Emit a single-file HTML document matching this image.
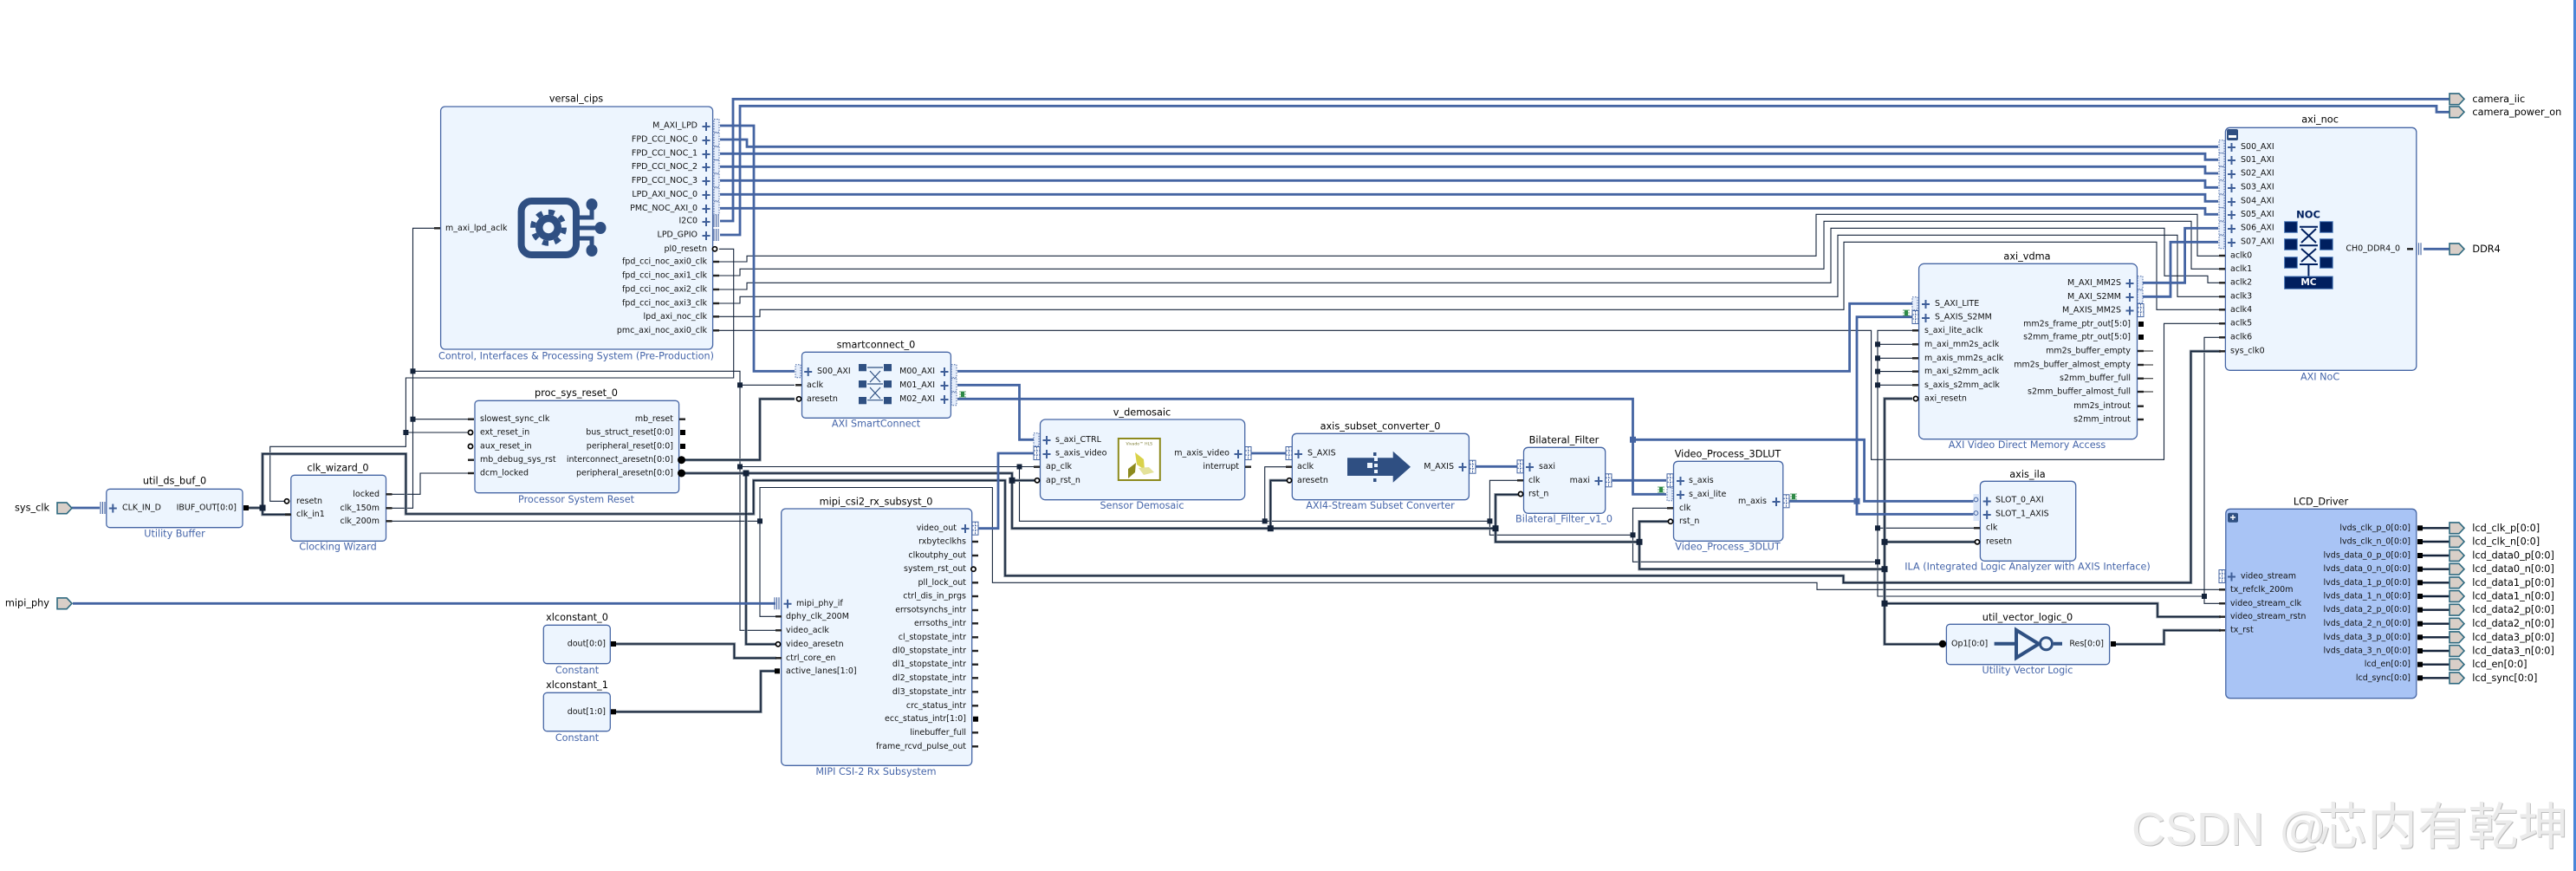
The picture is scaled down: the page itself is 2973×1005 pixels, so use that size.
<!DOCTYPE html>
<html><head><meta charset="utf-8"><title>Block Design</title>
<style>
html,body{margin:0;padding:0;background:#fff;width:2973px;height:1005px;overflow:hidden}
svg{display:block}
text{font-family:"DejaVu Sans","Liberation Sans",sans-serif;dominant-baseline:central}
.p{font-size:9.5px;fill:#111}
.e{font-size:9.5px;fill:#111;text-anchor:end}
.t{font-size:11.3px;fill:#000;text-anchor:middle}
.l{font-size:11.2px;fill:#4666aa;text-anchor:middle}
.x{font-size:11.3px;fill:#000}
.box{fill:#edf5fe;stroke:#4666a5;stroke-width:1.3}
.bw{fill:none;stroke:#4464a2;stroke-width:2.8}
.th{fill:none;stroke:#14233a;stroke-width:1.1}
.ic{fill:#2f4f82}
.nv{fill:#001f5f;stroke:#4a78b8;stroke-width:1}
.wm{font-family:"Liberation Sans","Noto Sans CJK SC",sans-serif;fill:#ebebeb;filter:drop-shadow(1px 1px 0 #bdbdbd);dominant-baseline:auto}
</style></head><body>
<svg xmlns="http://www.w3.org/2000/svg" width="2973" height="1005" viewBox="0 0 2973 1005">
<defs>
<path id="pl" d="M-4.5 0H4.5M0-5V5" stroke="#3f5f99" stroke-width="2" fill="none"/>
<rect id="pd" x="0" y="-7.5" width="6" height="15" fill="#e6eefb" stroke="#4464a2" stroke-width="1" stroke-dasharray="1.5 1.5"/>
<g id="pm"><rect x="0" y="-7.5" width="7" height="15" fill="#fff" stroke="#4464a2" stroke-width="1"/><path d="M0-3H7M0 2H7M3.5-7.5V7.5" stroke="#4464a2" stroke-width="1" stroke-dasharray="2 1" fill="none"/></g>
<path id="pa" d="M1-7V7M3.5-7V7M6-7V7" stroke="#4464a2" stroke-width="1.1" fill="none"/>
<rect id="s" x="0" y="-1.2" width="7" height="2.4" fill="#222"/>
<rect id="v" x="1" y="-3" width="6" height="6" fill="#000"/>
<circle id="r" cx="0" cy="0" r="2.6" fill="#fff" stroke="#000" stroke-width="1.7"/>
<rect id="j" x="-3" y="-3" width="6" height="6" fill="#14233a"/>
<rect id="J" x="-3.5" y="-3.5" width="7" height="7" fill="#14233a"/>
<rect id="B" x="-3.5" y="-3.5" width="7" height="7" fill="#4464a2"/>
<path id="ext" d="M0-6.4H11L17 0 11 6.4H0Z" fill="#d9cfc8" stroke="#2f6a80" stroke-width="1.6"/>
<g id="bug" fill="#2e8b46"><rect x="-2" y="-3" width="4" height="6"/><path d="M-4-3H4M-4 0H4M-4 3H4" stroke="#2e8b46" stroke-width="0.8"/></g>
<path id="tk" d="M287 586H303V593.7H336M303 586V523.7H468.4V593H869.7V554.3H1160V664.3H2127.5V672.3H2528.5V405.3H2563M790 530.7H877V460.3H917M790 546H1168V609.7H1726V570.7H1753M861 546V743.3H896M1168 554.3H1195M1466.3 609.7V554.3H1485M1726 609.7V625.3H1892V601.7H1925M1892 625.3V656.7H2175M2207 460H2175V743.3H2242M2175 625.3H2279M2175 696.3H2490V711.7H2563M2438 743.3H2497.5V727.3H2563M710 743H847.4V759.3H896M710 821.3H878V774.3H896"/>
</defs>
<rect x="2970" y="0" width="3" height="1005" fill="#4a86d8"/>
<text class="wm" y="975"><tspan x="2460" font-size="54">CSDN</tspan><tspan x="2630" font-size="54">@</tspan><tspan x="2674" y="974" font-size="58">芯内有乾坤</tspan></text>

<!-- thin clock wires -->
<g class="th">
<path class="th" d="M823 302H862V295.3H2096V247.3H2536V295.3H2563"/>
<path class="th" d="M823 318H854V310.3H2105V255.3H2529V310.3H2563"/>
<path class="th" d="M823 334H862V326.3H2113V263.3H2498V318.3H2548V326.3H2563"/>
<path class="th" d="M823 350H854V342.3H2121V271.3H2513V342.3H2563"/>
<path class="th" d="M823 365.3H877V357.3H2128V279.3H2489V357.3H2563"/>
<path class="th" d="M823 381.3H2159.6V530.3H2497.5V373.3H2563"/>
<path class="th" d="M445.5 586.3H476.5V263.3H508"/>
<path class="th" d="M476.5 428.3H854V727.3H896"/>
<path class="th" d="M854 444.3H917"/>
<path class="th" d="M476.5 483.7H541"/>
<path class="th" d="M854 538.5H1193"/>
<path class="th" d="M1176.5 538.5V601.3H1719.4V554.3H1752"/>
<path class="th" d="M1459.7 601.3V538.7H1484"/>
<path class="th" d="M1719.4 601.3V617.3H1884.5"/>
<path class="th" d="M1925 586.3H1884.5V648.3H2167"/>
<path class="th" d="M2207 381.3H2167V688H2544"/>
<path class="th" d="M2563 389.3H2544V696.3H2563"/>
<path class="th" d="M2167 397.3H2207M2167 413.3H2207M2167 428.6H2207M2167 444.3H2207M2167 609.3H2278"/>
<path class="th" d="M445.5 601.3H877V711.3H896"/>
<path class="th" d="M877 601.3V562.5H1145.4V672.3H2097V680.3H2563"/>
<path class="th" d="M445.5 570.3H485V546H541"/>
<path class="th" d="M830 287.3H846.7V436H468.4V515.3H311.7V578.3H330"/>
<path class="th" d="M468.4 499H541"/>
</g>
<!-- thick wires -->
<g fill="none" stroke="#8a949e" stroke-width="3.4"><use href="#tk"/></g>
<g fill="none" stroke="#14233a" stroke-width="1.6"><use href="#tk"/></g>
<g fill="none" stroke="#14233a" stroke-width="2.4">
<path d="M2796 609.3H2827M2796 625H2827M2796 641H2827M2796 656.7H2827M2796 672.3H2827M2796 688H2827M2796 703.7H2827M2796 719.7H2827M2796 735.3H2827M2796 751H2827M2796 766.7H2827M2796 782.3H2827"/>
</g>
<!-- blue wires -->
<g>
<path class="bw" d="M831 255H846V114.3H2827"/>
<path class="bw" d="M831 271H854V122.3H2812V129.3H2827"/>
<path class="bw" d="M831 145H870V428.3H917"/>
<path class="bw" d="M831 161H862V169.3H2560"/>
<path class="bw" d="M831 177.3H2545V184.3H2560"/>
<path class="bw" d="M831 192.3H2545V200H2560"/>
<path class="bw" d="M831 208.3H2545V216.3H2560"/>
<path class="bw" d="M831 224.3H2545V232.3H2560"/>
<path class="bw" d="M831 240.3H2545V247.3H2560"/>
<path class="bw" d="M2473 326.3H2521.6V263.3H2560"/>
<path class="bw" d="M2473 342.3H2505V279.3H2560"/>
<path class="bw" d="M1105 428.3H2134.6V350.3H2207"/>
<path class="bw" d="M1105 444.3H1176.5V507.3H1193"/>
<path class="bw" d="M1105 460.3H1884.5V570.3H1923"/>
<path class="bw" d="M1884.5 507.3H2151.6V578.3H2278"/>
<path class="bw" d="M1129 609.7H1152V523H1193"/>
<path class="bw" d="M1444 523H1484"/>
<path class="bw" d="M1703 538.3H1751"/>
<path class="bw" d="M1860.7 554.3H1923"/>
<path class="bw" d="M2065.5 578.3H2143"/>
<path class="bw" d="M2207 365.7H2143V593.3H2278"/>
<path class="bw" d="M84 696.3H895"/>
<path class="bw" d="M83 586H115"/>
<path class="bw" d="M2797 287.3H2827"/>
</g>
<!-- junctions -->
<use href="#j" x="476.5" y="428.3"/><use href="#j" x="476.5" y="483.7"/><use href="#j" x="468.4" y="499"/><use href="#j" x="854" y="444.3"/><use href="#j" x="854" y="538.5"/><use href="#J" x="861" y="546"/><use href="#J" x="303" y="586"/><use href="#j" x="877" y="601.3"/><use href="#j" x="1176.5" y="538.5"/><use href="#J" x="1168" y="554.3"/><use href="#j" x="1459.7" y="601.3"/><use href="#J" x="1466.3" y="609.7"/><use href="#j" x="1719.4" y="601.3"/><use href="#J" x="1726" y="609.7"/><use href="#j" x="1884.5" y="617.3"/><use href="#J" x="1892" y="625.3"/><use href="#j" x="2167" y="397.3"/><use href="#j" x="2167" y="413.3"/><use href="#j" x="2167" y="428.6"/><use href="#j" x="2167" y="444.3"/><use href="#j" x="2167" y="609.3"/><use href="#j" x="2167" y="648.3"/><use href="#J" x="2175" y="625.3"/><use href="#J" x="2175" y="656.7"/><use href="#J" x="2175" y="696.3"/><use href="#j" x="2544" y="688"/>
<use href="#B" x="1884.5" y="507.3"/><use href="#B" x="2143" y="578.3"/>

<!-- external ports -->
<use href="#ext" x="66" y="586.3"/><text class="x" x="57" y="586" text-anchor="end">sys_clk</text>
<use href="#ext" x="66" y="696.3"/><text class="x" x="57" y="696" text-anchor="end">mipi_phy</text>
<use href="#ext" x="2827" y="114.3"/><text class="x" x="2853.4" y="114.3">camera_iic</text>
<use href="#ext" x="2827" y="129.3"/><text class="x" x="2853.4" y="129.3">camera_power_on</text>
<use href="#ext" x="2827" y="287.3"/><text class="x" x="2853.4" y="287.3">DDR4</text>
<use href="#ext" x="2827" y="609.3"/><text class="x" x="2853.3" y="609.3">lcd_clk_p[0:0]</text>
<use href="#ext" x="2827" y="625"/><text class="x" x="2853.3" y="625">lcd_clk_n[0:0]</text>
<use href="#ext" x="2827" y="641"/><text class="x" x="2853.3" y="641">lcd_data0_p[0:0]</text>
<use href="#ext" x="2827" y="656.7"/><text class="x" x="2853.3" y="656.7">lcd_data0_n[0:0]</text>
<use href="#ext" x="2827" y="672.3"/><text class="x" x="2853.3" y="672.3">lcd_data1_p[0:0]</text>
<use href="#ext" x="2827" y="688"/><text class="x" x="2853.3" y="688">lcd_data1_n[0:0]</text>
<use href="#ext" x="2827" y="703.7"/><text class="x" x="2853.3" y="703.7">lcd_data2_p[0:0]</text>
<use href="#ext" x="2827" y="719.7"/><text class="x" x="2853.3" y="719.7">lcd_data2_n[0:0]</text>
<use href="#ext" x="2827" y="735.3"/><text class="x" x="2853.3" y="735.3">lcd_data3_p[0:0]</text>
<use href="#ext" x="2827" y="751"/><text class="x" x="2853.3" y="751">lcd_data3_n[0:0]</text>
<use href="#ext" x="2827" y="766.7"/><text class="x" x="2853.3" y="766.7">lcd_en[0:0]</text>
<use href="#ext" x="2827" y="782.3"/><text class="x" x="2853.3" y="782.3">lcd_sync[0:0]</text>

<!-- versal_cips -->
<rect class="box" x="508.6" y="123" width="314" height="280" rx="5"/>
<text class="t" x="665" y="114">versal_cips</text>
<text class="l" x="665" y="411">Control, Interfaces &amp; Processing System (Pre-Production)</text>
<use href="#s" x="501" y="263.3"/><text class="p" x="514" y="263.3">m_axi_lpd_aclk</text>
<rect x="601.6" y="232" width="63.4" height="62" rx="12" fill="none" stroke="#2f4f82" stroke-width="8"/>
<circle cx="633" cy="262.7" r="15" class="ic"/><circle cx="633" cy="262.7" r="18" fill="none" stroke="#2f4f82" stroke-width="6" stroke-dasharray="7 7.1"/><circle cx="633" cy="262.7" r="6.5" fill="#edf5fe"/>
<path d="M669 251H683V236M669 263H692M669 275H683V290" fill="none" stroke="#2f4f82" stroke-width="5"/>
<ellipse cx="683" cy="236" rx="6.5" ry="7" class="ic"/><ellipse cx="693" cy="263" rx="6.5" ry="7" class="ic"/><ellipse cx="683" cy="289" rx="6.5" ry="7" class="ic"/>
<g>
<text class="e" x="805" y="145">M_AXI_LPD</text><use href="#pl" x="815" y="146"/><use href="#pd" x="824" y="145"/>
<text class="e" x="805" y="161">FPD_CCI_NOC_0</text><use href="#pl" x="815" y="162"/><use href="#pd" x="824" y="161"/>
<text class="e" x="805" y="177">FPD_CCI_NOC_1</text><use href="#pl" x="815" y="178"/><use href="#pd" x="824" y="177"/>
<text class="e" x="805" y="192.3">FPD_CCI_NOC_2</text><use href="#pl" x="815" y="193"/><use href="#pd" x="824" y="192.3"/>
<text class="e" x="805" y="208.3">FPD_CCI_NOC_3</text><use href="#pl" x="815" y="209"/><use href="#pd" x="824" y="208.3"/>
<text class="e" x="805" y="224.3">LPD_AXI_NOC_0</text><use href="#pl" x="815" y="225"/><use href="#pd" x="824" y="224.3"/>
<text class="e" x="805" y="240.3">PMC_NOC_AXI_0</text><use href="#pl" x="815" y="241"/><use href="#pd" x="824" y="240.3"/>
<text class="e" x="805" y="255">I2C0</text><use href="#pl" x="815" y="256"/><use href="#pa" x="823" y="255"/>
<text class="e" x="805" y="271">LPD_GPIO</text><use href="#pl" x="815" y="272"/><use href="#pa" x="823" y="271"/>
<text class="e" x="816" y="287.3">pl0_resetn</text><use href="#r" x="825" y="287.3"/>
<text class="e" x="816" y="302">fpd_cci_noc_axi0_clk</text><use href="#s" x="823" y="302"/>
<text class="e" x="816" y="318">fpd_cci_noc_axi1_clk</text><use href="#s" x="823" y="318"/>
<text class="e" x="816" y="334">fpd_cci_noc_axi2_clk</text><use href="#s" x="823" y="334"/>
<text class="e" x="816" y="350">fpd_cci_noc_axi3_clk</text><use href="#s" x="823" y="350"/>
<text class="e" x="816" y="365.3">lpd_axi_noc_clk</text><use href="#s" x="823" y="365.3"/>
<text class="e" x="816" y="381.3">pmc_axi_noc_axi0_clk</text><use href="#s" x="823" y="381.3"/>
</g>

<!-- util_ds_buf -->
<rect class="box" x="122.8" y="564.3" width="157.2" height="44.4" rx="4"/>
<text class="t" x="201.5" y="555">util_ds_buf_0</text><text class="l" x="201.5" y="616">Utility Buffer</text>
<use href="#pa" x="115" y="586"/><use href="#pl" x="130.3" y="586.5"/><text class="p" x="141" y="586">CLK_IN_D</text>
<text class="e" x="273" y="586">IBUF_OUT[0:0]</text><use href="#v" x="280" y="586"/>

<!-- clk_wizard -->
<rect class="box" x="335.8" y="548.3" width="109.7" height="76" rx="4"/>
<text class="t" x="390" y="540">clk_wizard_0</text><text class="l" x="390" y="631">Clocking Wizard</text>
<use href="#r" x="331" y="578.3"/><text class="p" x="342" y="578.3">resetn</text>
<use href="#s" x="329" y="593.7"/><text class="p" x="342" y="593.7">clk_in1</text>
<text class="e" x="438" y="570.3">locked</text><use href="#s" x="445.5" y="570.3"/>
<text class="e" x="438" y="586.3">clk_150m</text><use href="#s" x="445.5" y="586.3"/>
<text class="e" x="438" y="601.3">clk_200m</text><use href="#s" x="445.5" y="601.3"/>

<!-- proc_sys_reset -->
<rect class="box" x="548" y="462.3" width="235.6" height="106.4" rx="4"/>
<text class="t" x="665" y="453.3">proc_sys_reset_0</text><text class="l" x="665" y="576.3">Processor System Reset</text>
<use href="#s" x="540" y="483.7"/><text class="p" x="554" y="483.7">slowest_sync_clk</text>
<use href="#r" x="543" y="499"/><text class="p" x="554" y="499">ext_reset_in</text>
<use href="#r" x="543" y="515"/><text class="p" x="554" y="515">aux_reset_in</text>
<use href="#s" x="540" y="530.7"/><text class="p" x="554" y="530.7">mb_debug_sys_rst</text>
<use href="#s" x="540" y="546"/><text class="p" x="554" y="546">dcm_locked</text>
<text class="e" x="777" y="483.7">mb_reset</text><use href="#s" x="784" y="483.7"/>
<text class="e" x="777" y="499">bus_struct_reset[0:0]</text><use href="#v" x="784" y="499"/>
<text class="e" x="777" y="515">peripheral_reset[0:0]</text><use href="#v" x="784" y="515"/>
<text class="e" x="777" y="530.7">interconnect_aresetn[0:0]</text><circle cx="786.5" cy="530.7" r="4.5" fill="#000"/>
<text class="e" x="777" y="546">peripheral_aresetn[0:0]</text><circle cx="786.5" cy="546" r="4.5" fill="#000"/>

<!-- smartconnect -->
<rect class="box" x="925.5" y="406.3" width="171.9" height="76" rx="4"/>
<text class="t" x="1011" y="398">smartconnect_0</text><text class="l" x="1011" y="489">AXI SmartConnect</text>
<use href="#pd" x="918" y="428.3"/><use href="#pl" x="932.7" y="429"/><text class="p" x="943" y="428.3">S00_AXI</text>
<use href="#s" x="918" y="444.3"/><text class="p" x="931" y="444.3">aclk</text>
<use href="#r" x="922" y="460.3"/><text class="p" x="931" y="460.3">aresetn</text>
<text class="e" x="1079" y="428.3">M00_AXI</text><use href="#pl" x="1090" y="429"/><use href="#pd" x="1098" y="428.3"/>
<text class="e" x="1079" y="444.3">M01_AXI</text><use href="#pl" x="1090" y="445"/><use href="#pd" x="1098" y="444.3"/>
<text class="e" x="1079" y="460.3">M02_AXI</text><use href="#pl" x="1090" y="461"/><use href="#pd" x="1098" y="460.3"/>
<use href="#bug" x="1111" y="455"/>
<g fill="#2f5082"><rect x="991" y="420" width="9" height="8.3"/><rect x="1020" y="420" width="9" height="8.3"/><rect x="991" y="439" width="9" height="8.3"/><rect x="1020" y="439" width="9" height="8.3"/><rect x="991" y="458" width="9" height="8.3"/><rect x="1020" y="458" width="9" height="8.3"/></g>
<path d="M1001 424H1019M1001 443H1019M1001 461.7H1019M1004 428L1016 441M1016 428L1004 441M1004 447L1016 460M1016 447L1004 460" stroke="#2f5082" stroke-width="1.2" fill="none"/>

<!-- v_demosaic -->
<rect class="box" x="1200.5" y="484" width="236.2" height="92.7" rx="6"/>
<text class="t" x="1318" y="476">v_demosaic</text><text class="l" x="1318" y="583.3">Sensor Demosaic</text>
<use href="#pd" x="1193" y="507.3"/><use href="#pl" x="1208" y="508"/><text class="p" x="1218" y="507.3">s_axi_CTRL</text>
<use href="#pm" x="1193" y="523"/><use href="#pl" x="1208" y="524"/><text class="p" x="1218" y="523">s_axis_video</text>
<use href="#s" x="1193" y="538.7"/><text class="p" x="1207" y="538.7">ap_clk</text>
<use href="#r" x="1197" y="554.3"/><text class="p" x="1207" y="554.3">ap_rst_n</text>
<text class="e" x="1419" y="523">m_axis_video</text><use href="#pl" x="1429" y="524"/><use href="#pm" x="1437" y="523"/>
<text class="e" x="1430" y="538.7">interrupt</text><use href="#s" x="1437" y="538.7"/>
<rect x="1290.8" y="506" width="48" height="48" fill="#fff" stroke="#8d8a1e" stroke-width="2"/>
<text x="1314.8" y="513" font-size="4.6" text-anchor="middle" fill="#7a7a30">Vivado™ HLS</text>
<path d="M1310 522L1320 530 1321 542 1312 536Z" fill="#d9d24a"/><path d="M1311 539L1302 546 1302 557 1310 550Z" fill="#8d8a1e" transform="translate(0,-5)"/><path d="M1314 540L1326 539 1332 545 1320 548Z" fill="#e4e29a"/>

<!-- axis_subset_converter -->
<rect class="box" x="1491.3" y="500.3" width="204.1" height="76.4" rx="5"/>
<text class="t" x="1593" y="492">axis_subset_converter_0</text><text class="l" x="1593" y="583.3">AXI4-Stream Subset Converter</text>
<use href="#pm" x="1484" y="523"/><use href="#pl" x="1498.5" y="524"/><text class="p" x="1509" y="523">S_AXIS</text>
<use href="#s" x="1484" y="538.7"/><text class="p" x="1497" y="538.7">aclk</text>
<use href="#r" x="1488" y="554.3"/><text class="p" x="1497" y="554.3">aresetn</text>
<text class="e" x="1678" y="538.7">M_AXIS</text><use href="#pl" x="1688" y="539"/><use href="#pm" x="1696" y="538.7"/>
<path d="M1555 528.3H1607.7V520.7L1628 538.7 1607.7 556.7V549H1555Z" class="ic"/>
<path d="M1588 521V557" stroke="#edf5fe" stroke-width="4" stroke-dasharray="4 3"/><rect x="1578" y="534" width="6" height="6" fill="#edf5fe"/><rect x="1585" y="522" width="3.5" height="4" class="ic"/><rect x="1585" y="552" width="3.5" height="4" class="ic"/>

<!-- Bilateral_Filter -->
<rect class="box" x="1758.5" y="516.3" width="94.2" height="76" rx="5"/>
<text class="t" x="1805" y="508">Bilateral_Filter</text><text class="l" x="1805" y="599">Bilateral_Filter_v1_0</text>
<use href="#pm" x="1751" y="538.3"/><use href="#pl" x="1765.5" y="539"/><text class="p" x="1776" y="538.3">saxi</text>
<use href="#s" x="1751" y="554.3"/><text class="p" x="1764" y="554.3">clk</text>
<use href="#r" x="1755" y="570"/><text class="p" x="1764" y="570">rst_n</text>
<text class="e" x="1835" y="554.3">maxi</text><use href="#pl" x="1845" y="555"/><use href="#pm" x="1853" y="554.3"/>

<!-- Video_Process_3DLUT -->
<rect class="box" x="1931.5" y="532.3" width="126.3" height="92" rx="5"/>
<text class="t" x="1994" y="524">Video_Process_3DLUT</text><text class="l" x="1994" y="631">Video_Process_3DLUT</text>
<use href="#pm" x="1924" y="554.3"/><use href="#pl" x="1939.5" y="555"/><text class="p" x="1949" y="554.3">s_axis</text>
<use href="#pd" x="1924" y="570.3"/><use href="#pl" x="1939.5" y="571"/><text class="p" x="1949" y="570.3">s_axi_lite</text>
<use href="#s" x="1924" y="586.3"/><text class="p" x="1938" y="586.3">clk</text>
<use href="#r" x="1928" y="601.7"/><text class="p" x="1938" y="601.7">rst_n</text>
<text class="e" x="2039" y="578.3">m_axis</text><use href="#pl" x="2050" y="579"/><use href="#pm" x="2058" y="578.3"/>
<use href="#bug" x="1917" y="565"/><use href="#bug" x="2070" y="573"/>

<!-- mipi -->
<rect class="box" x="901.7" y="587" width="220" height="296.3" rx="5"/>
<text class="t" x="1011" y="579">mipi_csi2_rx_subsyst_0</text><text class="l" x="1011" y="890.3">MIPI CSI-2 Rx Subsystem</text>
<use href="#pa" x="893" y="696.3"/><use href="#pl" x="909" y="696.8"/><text class="p" x="919" y="696.3">mipi_phy_if</text>
<use href="#s" x="895" y="711.3"/><text class="p" x="907" y="711.3">dphy_clk_200M</text>
<use href="#s" x="895" y="727.3"/><text class="p" x="907" y="727.3">video_aclk</text>
<use href="#r" x="898" y="743.3"/><text class="p" x="907" y="743.3">video_aresetn</text>
<use href="#s" x="895" y="759.3"/><text class="p" x="907" y="759.3">ctrl_core_en</text>
<use href="#v" x="893" y="774.3"/><text class="p" x="907" y="774.3">active_lanes[1:0]</text>
<text class="e" x="1104" y="609.7">video_out</text><use href="#pl" x="1114" y="610"/><use href="#pm" x="1122" y="609.7"/>
<text class="e" x="1115" y="625">rxbyteclkhs</text><use href="#s" x="1122" y="625"/>
<text class="e" x="1115" y="641">clkoutphy_out</text><use href="#s" x="1122" y="641"/>
<text class="e" x="1115" y="656.7">system_rst_out</text><use href="#r" x="1123.5" y="656.7"/>
<text class="e" x="1115" y="672.3">pll_lock_out</text><use href="#s" x="1122" y="672.3"/>
<text class="e" x="1115" y="688">ctrl_dis_in_prgs</text><use href="#s" x="1122" y="688"/>
<text class="e" x="1115" y="704">errsotsynchs_intr</text><use href="#s" x="1122" y="704"/>
<text class="e" x="1115" y="719.3">errsoths_intr</text><use href="#s" x="1122" y="719.3"/>
<text class="e" x="1115" y="735.3">cl_stopstate_intr</text><use href="#s" x="1122" y="735.3"/>
<text class="e" x="1115" y="751">dl0_stopstate_intr</text><use href="#s" x="1122" y="751"/>
<text class="e" x="1115" y="766.7">dl1_stopstate_intr</text><use href="#s" x="1122" y="766.7"/>
<text class="e" x="1115" y="782.3">dl2_stopstate_intr</text><use href="#s" x="1122" y="782.3"/>
<text class="e" x="1115" y="798.3">dl3_stopstate_intr</text><use href="#s" x="1122" y="798.3"/>
<text class="e" x="1115" y="814.3">crc_status_intr</text><use href="#s" x="1122" y="814.3"/>
<text class="e" x="1115" y="829.7">ecc_status_intr[1:0]</text><use href="#v" x="1122" y="829.7"/>
<text class="e" x="1115" y="845.3">linebuffer_full</text><use href="#s" x="1122" y="845.3"/>
<text class="e" x="1115" y="861.3">frame_rcvd_pulse_out</text><use href="#s" x="1122" y="861.3"/>

<!-- constants -->
<rect class="box" x="627.3" y="721.3" width="77" height="44.4" rx="4"/>
<text class="t" x="666" y="712.3">xlconstant_0</text><text class="l" x="666" y="773.3">Constant</text>
<text class="e" x="699" y="743">dout[0:0]</text><use href="#v" x="704" y="743"/>
<rect class="box" x="627.3" y="799.3" width="77" height="44.4" rx="4"/>
<text class="t" x="666" y="790.3">xlconstant_1</text><text class="l" x="666" y="851.3">Constant</text>
<text class="e" x="699" y="821.3">dout[1:0]</text><use href="#v" x="704" y="821.3"/>

<!-- axi_vdma -->
<rect class="box" x="2214.6" y="304.3" width="251.9" height="202.4" rx="6"/>
<text class="t" x="2339.5" y="296">axi_vdma</text><text class="l" x="2339.5" y="513.3">AXI Video Direct Memory Access</text>
<use href="#pd" x="2207" y="350.3"/><use href="#pl" x="2222.5" y="351"/><text class="p" x="2233" y="350.3">S_AXI_LITE</text>
<use href="#pm" x="2207" y="366"/><use href="#pl" x="2222.5" y="367"/><text class="p" x="2233" y="366">S_AXIS_S2MM</text>
<use href="#bug" x="2200" y="361"/>
<use href="#s" x="2207" y="381.3"/><text class="p" x="2221" y="381.3">s_axi_lite_aclk</text>
<use href="#s" x="2207" y="397.3"/><text class="p" x="2221" y="397.3">m_axi_mm2s_aclk</text>
<use href="#s" x="2207" y="413.3"/><text class="p" x="2221" y="413.3">m_axis_mm2s_aclk</text>
<use href="#s" x="2207" y="428.6"/><text class="p" x="2221" y="428.6">m_axi_s2mm_aclk</text>
<use href="#s" x="2207" y="444.3"/><text class="p" x="2221" y="444.3">s_axis_s2mm_aclk</text>
<use href="#r" x="2211" y="460"/><text class="p" x="2221" y="460">axi_resetn</text>
<text class="e" x="2448" y="326.3">M_AXI_MM2S</text><use href="#pl" x="2458" y="327"/><use href="#pd" x="2467" y="326.3"/>
<text class="e" x="2448" y="342.3">M_AXI_S2MM</text><use href="#pl" x="2458" y="343"/><use href="#pd" x="2467" y="342.3"/>
<text class="e" x="2448" y="358">M_AXIS_MM2S</text><use href="#pl" x="2458" y="358.5"/><use href="#pm" x="2467" y="358"/>
<text class="e" x="2459" y="374">mm2s_frame_ptr_out[5:0]</text><use href="#v" x="2467" y="374"/>
<text class="e" x="2459" y="389">s2mm_frame_ptr_out[5:0]</text><use href="#v" x="2467" y="389"/>
<text class="e" x="2459" y="405">mm2s_buffer_empty</text><path d="M2467 405H2485M2467 421H2485M2467 436.7H2485M2467 452H2485" stroke="#222" stroke-width="1"/><use href="#s" x="2467" y="405"/>
<text class="e" x="2459" y="421">mm2s_buffer_almost_empty</text><use href="#s" x="2467" y="421"/>
<text class="e" x="2459" y="436.7">s2mm_buffer_full</text><use href="#s" x="2467" y="436.7"/>
<text class="e" x="2459" y="452">s2mm_buffer_almost_full</text><use href="#s" x="2467" y="452"/>
<text class="e" x="2459" y="468.7">mm2s_introut</text><use href="#s" x="2467" y="468.7"/>
<text class="e" x="2459" y="484">s2mm_introut</text><use href="#s" x="2467" y="484"/>

<!-- axi_noc -->
<rect class="box" x="2568.4" y="147.3" width="220.4" height="280" rx="5"/>
<text class="t" x="2677.6" y="138">axi_noc</text><text class="l" x="2677.6" y="435">AXI NoC</text>
<rect x="2570" y="149" width="13" height="13" rx="2" fill="#2f4f82"/><rect x="2572" y="156" width="9" height="3" fill="#fff"/>
<use href="#pd" x="2561" y="169.3"/><use href="#pl" x="2575.5" y="170"/><text class="p" x="2586" y="169.3">S00_AXI</text>
<use href="#pd" x="2561" y="184.3"/><use href="#pl" x="2575.5" y="185"/><text class="p" x="2586" y="184.3">S01_AXI</text>
<use href="#pd" x="2561" y="200"/><use href="#pl" x="2575.5" y="201"/><text class="p" x="2586" y="200">S02_AXI</text>
<use href="#pd" x="2561" y="216.3"/><use href="#pl" x="2575.5" y="217"/><text class="p" x="2586" y="216">S03_AXI</text>
<use href="#pd" x="2561" y="232.3"/><use href="#pl" x="2575.5" y="233"/><text class="p" x="2586" y="232">S04_AXI</text>
<use href="#pd" x="2561" y="247.3"/><use href="#pl" x="2575.5" y="248"/><text class="p" x="2586" y="247.3">S05_AXI</text>
<use href="#pd" x="2561" y="263.3"/><use href="#pl" x="2575.5" y="264"/><text class="p" x="2586" y="263">S06_AXI</text>
<use href="#pd" x="2561" y="279.3"/><use href="#pl" x="2575.5" y="280"/><text class="p" x="2586" y="279">S07_AXI</text>
<use href="#s" x="2561" y="295"/><text class="p" x="2574" y="295">aclk0</text>
<use href="#s" x="2561" y="310.3"/><text class="p" x="2574" y="310.3">aclk1</text>
<use href="#s" x="2561" y="326.3"/><text class="p" x="2574" y="326">aclk2</text>
<use href="#s" x="2561" y="342.3"/><text class="p" x="2574" y="342">aclk3</text>
<use href="#s" x="2561" y="357.3"/><text class="p" x="2574" y="357.3">aclk4</text>
<use href="#s" x="2561" y="373.3"/><text class="p" x="2574" y="373">aclk5</text>
<use href="#s" x="2561" y="389.3"/><text class="p" x="2574" y="389">aclk6</text>
<use href="#s" x="2561" y="405.3"/><text class="p" x="2574" y="405">sys_clk0</text>
<text class="e" x="2770" y="287">CH0_DDR4_0</text><use href="#s" x="2778" y="287.3"/><use href="#pa" x="2788" y="287.3"/>
<text x="2664" y="247.7" font-size="11.5" font-weight="bold" text-anchor="middle" fill="#001f5f">NOC</text>
<rect class="nv" x="2636.6" y="255.7" width="14.7" height="12.6"/><rect class="nv" x="2677.5" y="255.7" width="14.7" height="12.6"/><rect class="nv" x="2636.6" y="275.7" width="14.7" height="12.6"/><rect class="nv" x="2677.5" y="275.7" width="14.7" height="12.6"/><rect class="nv" x="2636.6" y="296.7" width="14.7" height="12.6"/><rect class="nv" x="2677.5" y="296.7" width="14.7" height="12.6"/>
<path d="M2654 261.7H2675M2654 283.3H2675M2654 305H2675M2656 264L2673 280M2673 264L2656 280M2656 287L2673 302M2673 287L2656 302M2664.4 305V319" stroke="#001f5f" stroke-width="2" fill="none"/>
<rect class="nv" x="2636.6" y="319" width="55.6" height="14.3"/><text x="2664.4" y="326" font-size="10.5" font-weight="bold" text-anchor="middle" fill="#fff">MC</text>

<!-- axis_ila -->
<rect class="box" x="2285.4" y="555.3" width="110.3" height="92" rx="5"/>
<text class="t" x="2340" y="547.3">axis_ila</text><text class="l" x="2340" y="654">ILA (Integrated Logic Analyzer with AXIS Interface)</text>
<rect x="2277.5" y="570" width="7.5" height="16" fill="#dbe6f8"/><circle cx="2280.5" cy="576.5" r="2.4" fill="none" stroke="#4464a2"/><rect x="2277.5" y="585" width="7.5" height="16" fill="#dbe6f8"/><circle cx="2280.5" cy="592" r="2.4" fill="none" stroke="#4464a2"/>
<use href="#pl" x="2293.2" y="578.5"/><text class="p" x="2303" y="577">SLOT_0_AXI</text>
<use href="#pl" x="2293.2" y="594"/><text class="p" x="2303" y="593">SLOT_1_AXIS</text>
<use href="#s" x="2278" y="609.3"/><text class="p" x="2292" y="609">clk</text>
<use href="#r" x="2282" y="625.3"/><text class="p" x="2292" y="625">resetn</text>

<!-- util_vector_logic -->
<rect class="box" x="2246.4" y="720.3" width="188.2" height="46.4" rx="4"/>
<text class="t" x="2340" y="712.3">util_vector_logic_0</text><text class="l" x="2340" y="773.3">Utility Vector Logic</text>
<circle cx="2242" cy="743" r="4.2" fill="#000"/><text class="p" x="2252" y="743">Op1[0:0]</text>
<text class="e" x="2428" y="743">Res[0:0]</text><use href="#v" x="2435" y="743"/>
<path d="M2301.6 742.7H2325.5M2327 727V759L2353 743ZM2370 742.7H2380" fill="none" stroke="#2f5082" stroke-width="4"/>
<circle cx="2361.5" cy="742.7" r="7" fill="none" stroke="#2f5082" stroke-width="3"/>

<!-- LCD_Driver -->
<rect x="2568.8" y="587.3" width="220" height="218.4" rx="5" fill="#a9c4f5" stroke="#4666a5" stroke-width="1.3"/>
<text class="t" x="2678.5" y="579">LCD_Driver</text>
<rect x="2571" y="591.7" width="12" height="11" rx="2" fill="#2f5082"/><path d="M2574 597H2580M2577 594V600" stroke="#fff" stroke-width="1.4"/>
<use href="#pm" x="2561" y="665"/><use href="#pl" x="2575.5" y="665.5"/><text class="p" x="2586" y="665">video_stream</text>
<use href="#s" x="2561" y="680.3"/><text class="p" x="2574" y="680.3">tx_refclk_200m</text>
<use href="#s" x="2561" y="696.3"/><text class="p" x="2574" y="696.3">video_stream_clk</text>
<use href="#s" x="2561" y="711.7"/><text class="p" x="2574" y="711.7">video_stream_rstn</text>
<use href="#s" x="2561" y="727.3"/><text class="p" x="2574" y="727">tx_rst</text>
<text class="e" x="2782" y="609.3">lvds_clk_p_0[0:0]</text><use href="#v" x="2789" y="609.3"/>
<text class="e" x="2782" y="625">lvds_clk_n_0[0:0]</text><use href="#v" x="2789" y="625"/>
<text class="e" x="2782" y="641">lvds_data_0_p_0[0:0]</text><use href="#v" x="2789" y="641"/>
<text class="e" x="2782" y="656.7">lvds_data_0_n_0[0:0]</text><use href="#v" x="2789" y="656.7"/>
<text class="e" x="2782" y="672.3">lvds_data_1_p_0[0:0]</text><use href="#v" x="2789" y="672.3"/>
<text class="e" x="2782" y="688">lvds_data_1_n_0[0:0]</text><use href="#v" x="2789" y="688"/>
<text class="e" x="2782" y="703.7">lvds_data_2_p_0[0:0]</text><use href="#v" x="2789" y="703.7"/>
<text class="e" x="2782" y="719.7">lvds_data_2_n_0[0:0]</text><use href="#v" x="2789" y="719.7"/>
<text class="e" x="2782" y="735.3">lvds_data_3_p_0[0:0]</text><use href="#v" x="2789" y="735.3"/>
<text class="e" x="2782" y="751">lvds_data_3_n_0[0:0]</text><use href="#v" x="2789" y="751"/>
<text class="e" x="2782" y="766.7">lcd_en[0:0]</text><use href="#v" x="2789" y="766.7"/>
<text class="e" x="2782" y="782.3">lcd_sync[0:0]</text><use href="#v" x="2789" y="782.3"/>
</svg>
</body></html>
